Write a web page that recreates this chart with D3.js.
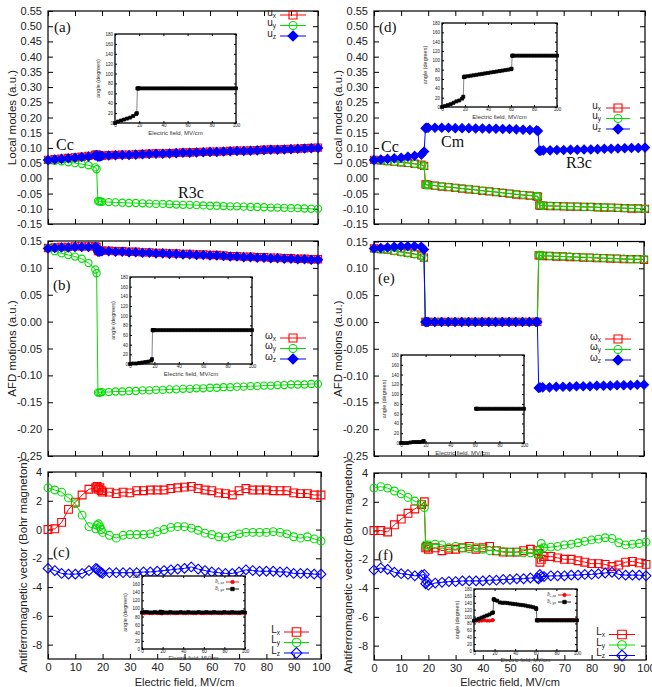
<!DOCTYPE html>
<html>
<head>
<meta charset="utf-8">
<script src="https://cdn.jsdelivr.net/npm/d3@7"></script>
<style>
  body { margin: 0; background: #fff; }
  svg { display: block; }
</style>
</head>
<body>
<div id="chart"></div>
<script>
// ---- values ----
// field points (MV/cm), panels (a), (b), (c)
var fieldABC = [0,2.5,5,7.5,10,12.5,15,17.5,18,18.5,19,19.5,20,22.5,25,27.5,30,32.5,35,37.5,40,42.5,45,47.5,50,52.5,55,57.5,60,62.5,65,67.5,70,72.5,75,77.5,80,82.5,85,87.5,90,92.5,95,97.5,100];
// field points (MV/cm), panels (d), (e), (f)
var fieldDEF = [0,2.5,5,7.5,10,12.5,15,17.5,18.5,19,19.5,20,22.5,25,27.5,30,32.5,35,37.5,40,42.5,45,47.5,50,52.5,55,57.5,60,60.5,61,61.5,62.5,65,67.5,70,72.5,75,77.5,80,82.5,85,87.5,90,92.5,95,97.5,100];

// tick labels
var yTicksU = [-0.15,-0.10,-0.05,0.00,0.05,0.10,0.15,0.20,0.25,0.30,0.35,0.40,0.45,0.50,0.55];
var yTicksW = [-0.25,-0.20,-0.15,-0.10,-0.05,0.00,0.05,0.10,0.15];
var yTicksL = [-8,-6,-4,-2,0,2,4];
var xTicks = [0,10,20,30,40,50,60,70,80,90,100];
var insetYTicks = [0,20,40,60,80,100,120,140,160,180];
var insetXTicks = [0,20,40,60,80,100];

// (a) local modes
var uxA = [0.061,0.063,0.065,0.067,0.069,0.071,0.074,0.077,0.079,0.074,0.074,0.075,0.075,0.076,0.077,0.078,0.078,0.079,0.080,0.081,0.082,0.082,0.083,0.084,0.085,0.085,0.086,0.087,0.088,0.088,0.089,0.090,0.091,0.091,0.092,0.093,0.094,0.095,0.095,0.096,0.097,0.098,0.099,0.100,0.101];
var uyA = [0.060,0.058,0.056,0.053,0.050,0.047,0.043,0.036,0.030,-0.075,-0.076,-0.076,-0.077,-0.078,-0.079,-0.080,-0.081,-0.081,-0.082,-0.083,-0.084,-0.084,-0.085,-0.086,-0.087,-0.087,-0.088,-0.089,-0.090,-0.090,-0.091,-0.092,-0.092,-0.093,-0.094,-0.094,-0.095,-0.096,-0.096,-0.097,-0.098,-0.098,-0.099,-0.100,-0.100];
var uzA = [0.060,0.062,0.064,0.066,0.068,0.070,0.072,0.075,0.077,0.071,0.072,0.073,0.074,0.075,0.076,0.077,0.077,0.078,0.079,0.080,0.081,0.081,0.082,0.083,0.084,0.084,0.085,0.086,0.087,0.087,0.088,0.089,0.090,0.090,0.091,0.092,0.093,0.094,0.094,0.095,0.096,0.097,0.098,0.099,0.100];
var angleA = [0,3,5,7,9,11,14,18,20,70,70,70,70,70,70,70,70,70,70,70,70,70,70,70,70,70,70,70,70,70,70,70,70,70,70,70,70,70,70,70,70,70,70,70,70];

// (b) AFD motions
var wxB = [0.137,0.138,0.139,0.139,0.140,0.140,0.140,0.140,0.139,0.131,0.131,0.132,0.132,0.132,0.131,0.131,0.130,0.130,0.129,0.129,0.128,0.128,0.127,0.127,0.126,0.126,0.125,0.125,0.124,0.124,0.123,0.122,0.122,0.121,0.121,0.120,0.120,0.119,0.119,0.118,0.118,0.117,0.117,0.116,0.116];
var wyB = [0.137,0.131,0.127,0.124,0.121,0.117,0.109,0.097,0.090,-0.132,-0.132,-0.132,-0.131,-0.131,-0.130,-0.130,-0.129,-0.129,-0.128,-0.128,-0.127,-0.127,-0.126,-0.126,-0.125,-0.125,-0.124,-0.124,-0.123,-0.123,-0.122,-0.122,-0.121,-0.121,-0.120,-0.120,-0.119,-0.119,-0.118,-0.118,-0.117,-0.117,-0.117,-0.116,-0.116];
var wzB = [0.136,0.137,0.138,0.138,0.139,0.139,0.139,0.139,0.138,0.130,0.130,0.131,0.131,0.131,0.130,0.130,0.129,0.129,0.128,0.128,0.127,0.127,0.126,0.126,0.125,0.125,0.124,0.124,0.123,0.123,0.122,0.121,0.121,0.120,0.120,0.119,0.119,0.118,0.118,0.117,0.117,0.116,0.116,0.115,0.115];
var angleB = [0,1,1,2,3,4,5,7,10,70,70,70,70,70,70,70,70,70,70,70,70,70,70,70,70,70,70,70,70,70,70,70,70,70,70,70,70,70,70,70,70,70,70,70,70];

// (c) antiferromagnetic vector
var LxC = [0.0,0.05,0.5,1.4,1.9,2.4,2.8,2.9,3.0,2.8,2.9,2.7,2.6,2.6,2.5,2.6,2.55,2.7,2.7,2.75,2.75,2.75,2.85,2.9,2.95,3.0,2.85,2.75,2.7,2.55,2.5,2.4,2.7,2.85,2.75,2.75,2.75,2.7,2.7,2.7,2.55,2.5,2.5,2.4,2.4];
var LyC = [2.9,2.75,2.6,2.2,1.8,1.0,0.2,0.05,0.3,0.4,0.2,0.0,-0.2,-0.4,-0.6,-0.4,-0.35,-0.35,-0.35,-0.3,-0.15,0.0,0.15,0.2,0.2,0.1,-0.05,-0.25,-0.35,-0.5,-0.55,-0.45,-0.3,-0.2,-0.2,-0.2,-0.2,-0.15,-0.2,-0.3,-0.5,-0.6,-0.5,-0.65,-0.8];
var LzC = [-2.7,-2.85,-3.05,-3.1,-3.1,-3.05,-2.85,-2.7,-2.75,-2.85,-2.95,-3.0,-3.05,-3.0,-3.0,-3.0,-3.0,-3.0,-2.95,-2.95,-2.9,-2.85,-2.8,-2.75,-2.7,-2.6,-2.75,-2.85,-2.95,-3.0,-3.05,-3.05,-2.95,-2.8,-2.85,-2.9,-2.9,-2.9,-2.95,-2.95,-3.05,-3.05,-3.05,-3.1,-3.1];
var angleC1 = [88,88,89,88,88,89,88,88,89,89,88,88,88,89,88,88,89,88,88,89,88,88,88,89,88,88,89,88,88,88,89,88,88,89,88,88,88,89,88,88,89,88,88,89,88];
var angleC2 = [90,91,91,90,90,91,90,90,92,91,90,90,91,90,90,91,90,90,90,91,90,90,91,90,90,90,91,90,90,91,90,90,91,90,90,90,91,90,90,91,90,90,90,91,90];

// (d) local modes
var uxD = [0.061,0.059,0.057,0.055,0.053,0.051,0.048,0.045,0.041,-0.020,-0.021,-0.022,-0.024,-0.027,-0.029,-0.031,-0.034,-0.036,-0.038,-0.041,-0.043,-0.045,-0.048,-0.050,-0.053,-0.055,-0.057,-0.059,-0.060,-0.089,-0.090,-0.090,-0.091,-0.091,-0.092,-0.093,-0.093,-0.094,-0.094,-0.095,-0.096,-0.096,-0.097,-0.098,-0.099,-0.099,-0.100];
var uyD = [0.060,0.058,0.056,0.054,0.052,0.050,0.047,0.044,0.040,-0.021,-0.022,-0.022,-0.024,-0.026,-0.028,-0.031,-0.033,-0.035,-0.038,-0.040,-0.042,-0.045,-0.047,-0.050,-0.052,-0.054,-0.056,-0.058,-0.059,-0.088,-0.089,-0.090,-0.090,-0.091,-0.092,-0.092,-0.093,-0.094,-0.094,-0.095,-0.095,-0.096,-0.097,-0.098,-0.098,-0.099,-0.100];
var uzD = [0.060,0.062,0.064,0.066,0.068,0.071,0.074,0.078,0.088,0.165,0.166,0.166,0.166,0.166,0.166,0.165,0.165,0.165,0.164,0.164,0.163,0.163,0.162,0.162,0.161,0.160,0.159,0.158,0.156,0.091,0.091,0.092,0.092,0.093,0.093,0.094,0.094,0.095,0.095,0.096,0.097,0.097,0.098,0.099,0.100,0.100,0.101];
var angleD = [0,2,4,6,9,12,14,18,22,64,65,65,66,67,68,69,70,71,72,73,74,75,76,77,78,79,80,81,82,110,110,110,110,110,110,110,110,110,110,110,110,110,110,110,110,110,110];

// (e) AFD motions
var wxE = [0.137,0.136,0.135,0.133,0.131,0.129,0.127,0.124,0.120,0,0,0,0,0,0,0,0,0,0,0,0,0,0,0,0,0,0,0,0,0.124,0.124,0.123,0.123,0.122,0.122,0.121,0.121,0.120,0.120,0.119,0.119,0.118,0.118,0.117,0.117,0.117,0.116];
var wyE = [0.136,0.135,0.134,0.132,0.130,0.128,0.126,0.123,0.119,0,0,0,0,0,0,0,0,0,0,0,0,0,0,0,0,0,0,0,0,0.125,0.124,0.124,0.123,0.123,0.122,0.122,0.121,0.121,0.120,0.120,0.119,0.119,0.118,0.118,0.117,0.117,0.117];
var wzE = [0.137,0.138,0.139,0.140,0.141,0.141,0.141,0.140,0.135,0,0,0,0,0,0,0,0,0,0,0,0,0,0,0,0,0,0,0,0,-0.123,-0.122,-0.122,-0.122,-0.121,-0.121,-0.121,-0.120,-0.120,-0.120,-0.119,-0.119,-0.119,-0.118,-0.118,-0.118,-0.117,-0.117];
var angleE = [0,0,0,1,2,2,2,3,4,null,null,null,null,null,null,null,null,null,null,null,null,null,null,null,null,null,null,null,null,70,70,70,70,70,70,70,70,70,70,70,70,70,70,70,70,70,70];

// (f) antiferromagnetic vector
var LxF = [0.0,0.0,-0.1,0.4,0.8,1.2,1.5,1.8,2.0,-1.2,-1.1,-1.3,-1.2,-1.4,-1.3,-1.3,-1.2,-1.1,-1.3,-1.2,-1.1,-1.4,-1.5,-1.5,-1.5,-1.4,-1.3,-1.4,-1.6,-2.2,-2.0,-1.8,-1.8,-1.9,-2.0,-2.0,-2.1,-2.2,-2.3,-2.3,-2.35,-2.5,-2.4,-2.2,-2.15,-2.25,-2.35];
var LyF = [2.95,3.05,2.95,2.75,2.55,2.3,2.05,1.85,1.6,-1.0,-1.1,-1.0,-0.95,-1.0,-1.2,-1.1,-1.2,-1.25,-1.2,-1.3,-1.4,-1.4,-1.45,-1.5,-1.5,-1.55,-1.55,-1.6,-1.65,-1.3,-0.9,-1.2,-1.15,-1.1,-1.0,-0.95,-0.85,-0.75,-0.65,-0.6,-0.5,-0.55,-0.85,-1.0,-0.95,-0.9,-0.8];
var LzF = [-2.75,-2.6,-2.7,-2.9,-3.0,-3.05,-3.15,-3.1,-3.05,-3.7,-3.55,-3.8,-3.65,-3.6,-3.55,-3.55,-3.5,-3.5,-3.5,-3.5,-3.45,-3.45,-3.4,-3.4,-3.35,-3.35,-3.3,-3.3,-3.35,-3.05,-3.2,-3.2,-3.15,-3.15,-3.15,-3.1,-3.1,-3.05,-3.05,-3.0,-2.95,-2.9,-3.05,-3.1,-3.1,-3.1,-3.15];
var angleF1 = [88,88,87,88,89,88,88,89,90,null,null,null,null,null,null,null,null,null,null,null,null,null,null,null,null,null,null,null,null,90,90,90,90,90,90,90,90,90,90,90,90,90,90,90,90,90,90];
var angleF2 = [88,91,94,97,100,103,106,110,112,150,150,148,146,141,140,140,139,138,137,136,135,134,133,132,130,129,127,125,122,89,89,89,89,89,89,89,89,89,89,89,89,89,89,89,89,89,89];

var red = "#ff0000", green = "#00dd00", blue = "#0000ff";
var sans = "'Liberation Sans', Arial, Helvetica, sans-serif";
var serif = "'Liberation Serif', 'Times New Roman', serif";

var svg = d3.select("#chart").append("svg")
    .attr("width", 652)
    .attr("height", 687);

// draw one gnuplot-like point
function drawMarker(g, type, cx, cy, s, color, filled, sw) {
  var m;
  if (type == "circle") {
    m = g.append("circle").attr("cx", cx).attr("cy", cy).attr("r", s);
  } else {
    var d;
    if (type == "square") d = "M" + (-s) + "," + (-s) + "h" + (2 * s) + "v" + (2 * s) + "h" + (-2 * s) + "z";
    else {
      var t = s * 1.25;
      d = "M0," + (-t) + "L" + t + ",0L0," + t + "L" + (-t) + ",0z";
    }
    m = g.append("path").attr("d", d).attr("transform", "translate(" + cx + "," + cy + ")");
  }
  m.attr("fill", filled ? color : "none")
   .attr("stroke", color)
   .attr("stroke-width", sw || 1.1);
}

function styleAxis(a, size) {
  a.select(".domain").remove();
  a.attr("font-family", sans).attr("font-size", size);
  a.selectAll("line").attr("stroke", "#000");
  a.selectAll("text").attr("fill", "#222");
}

// frame + mirrored inward ticks, like gnuplot
function frame(g, x, y, b, yTicks, xT, fmt, fs, tick, pad, showX, xpad) {
  g.append("rect")
      .attr("x", b.left).attr("y", b.top)
      .attr("width", b.right - b.left).attr("height", b.bottom - b.top)
      .attr("fill", b.fill || "none")
      .attr("stroke", "#000").attr("stroke-width", b.sw || 1.2);

  var left = g.append("g").attr("transform", "translate(" + b.left + ",0)")
      .call(d3.axisLeft(y).tickValues(yTicks).tickSizeInner(-tick).tickSizeOuter(0).tickPadding(pad).tickFormat(fmt));
  var right = g.append("g").attr("transform", "translate(" + b.right + ",0)")
      .call(d3.axisRight(y).tickValues(yTicks).tickSizeInner(-tick).tickSizeOuter(0).tickFormat(""));
  var bottom = g.append("g").attr("transform", "translate(0," + b.bottom + ")")
      .call(d3.axisBottom(x).tickValues(xT).tickSizeInner(-tick).tickSizeOuter(0).tickPadding(xpad == null ? pad : xpad)
        .tickFormat(showX ? d3.format("d") : ""));
  var top = g.append("g").attr("transform", "translate(0," + b.top + ")")
      .call(d3.axisTop(x).tickValues(xT).tickSizeInner(-tick).tickSizeOuter(0).tickFormat(""));
  [left, right, bottom, top].forEach(function(a) { styleAxis(a, fs); });
}

function drawSeries(g, x, y, s, ms, lw, sw) {
  var pts = s.x.map(function(v, i) { return [v, s.y[i]]; });
  var line = d3.line()
      .defined(function(d) { return d[1] != null; })
      .x(function(d) { return x(d[0]); })
      .y(function(d) { return y(d[1]); });
  g.append("path")
      .attr("d", line(pts))
      .attr("fill", "none")
      .attr("stroke", s.lineColor || s.color)
      .attr("stroke-width", lw);
  var mg = g.append("g");
  pts.forEach(function(d) {
    if (d[1] == null) return;
    drawMarker(mg, s.marker, x(d[0]), y(d[1]), ms, s.color, s.filled, sw);
  });
}

function drawInset(g, ins) {
  var x = d3.scaleLinear().domain([0, 100]).range([ins.left, ins.right]);
  var y = d3.scaleLinear().domain([0, 180]).range([ins.bottom, ins.top]);
  var ig = g.append("g");
  ig.append("rect")
      .attr("x", ins.left).attr("y", ins.top)
      .attr("width", ins.right - ins.left).attr("height", ins.bottom - ins.top)
      .attr("fill", "#fff");
  frame(ig, x, y, {left: ins.left, right: ins.right, top: ins.top, bottom: ins.bottom, sw: 1.3},
        insetYTicks, insetXTicks, d3.format("d"), 4.5, 2, 2, true, 1);
  ig.append("text")
      .attr("transform", "translate(" + (ins.left - 15) + "," + ((ins.top + ins.bottom) / 2) + ") rotate(-90)")
      .attr("text-anchor", "middle")
      .attr("font-family", sans).attr("font-size", 5.5).attr("fill", "#333")
      .text("angle (degrees)");
  ig.append("text")
      .attr("x", (ins.left + ins.right) / 2).attr("y", ins.bottom + (ins.titleGap || 12))
      .attr("text-anchor", "middle")
      .attr("font-family", sans).attr("font-size", ins.titleGap ? 5.5 : 6).attr("fill", "#333")
      .text("Electric field, MV/cm");
  ins.series.forEach(function(s) { drawSeries(ig, x, y, s, 1.5, 0.9, 0.8); });
  if (ins.legend) {
    ins.legend.forEach(function(l, i) {
      var yy = ins.top + 6 + i * 7;
      var t = ig.append("text")
          .attr("x", ins.right - 21).attr("y", yy).attr("dy", "0.2em")
          .attr("text-anchor", "end")
          .attr("font-family", sans).attr("font-size", 4.5).attr("fill", "#333");
      t.append("tspan").text("\u03D1");
      t.append("tspan").attr("font-size", 3.5).attr("dy", 1).text(l.sub);
      ig.append("line")
          .attr("x1", ins.right - 19).attr("x2", ins.right - 6)
          .attr("y1", yy).attr("y2", yy)
          .attr("stroke", l.color).attr("stroke-width", 0.9);
      drawMarker(ig, l.marker, ins.right - 12.5, yy, 1.7, l.color, true, 0.8);
    });
  }
}

function drawPanel(p) {
  var g = svg.append("g");
  var x = d3.scaleLinear().domain([0, 100]).range([p.left, p.right]);
  var y = d3.scaleLinear().domain(p.yDomain).range([p.bottom, p.top]);

  frame(g, x, y, p, p.yTicks, xTicks, p.fmt, 11, 5, 6, p.showX, 4);

  // axis titles
  g.append("text")
      .attr("transform", "translate(" + p.titleX + "," + ((p.top + p.bottom) / 2) + ") rotate(-90)")
      .attr("text-anchor", "middle")
      .attr("dy", "0.35em")
      .attr("font-family", sans).attr("font-size", 11.5).attr("fill", "#222")
      .text(p.yTitle);
  if (p.showX) {
    g.append("text")
        .attr("x", (p.left + p.right) / 2).attr("y", 685.5)
        .attr("text-anchor", "middle")
        .attr("font-family", sans).attr("font-size", 11).attr("fill", "#222")
        .text("Electric field, MV/cm");
  }

  // data
  p.series.forEach(function(s) { drawSeries(g, x, y, s, p.ms, 1, 1.1); });

  // legend
  p.series.forEach(function(s, i) {
    var yy = p.legend.ys[i];
    var t = g.append("text")
        .attr("x", p.legend.textRight).attr("y", yy).attr("dy", "0.05em")
        .attr("text-anchor", "end")
        .attr("font-family", sans).attr("font-size", 10).attr("fill", "#222");
    t.append("tspan").text(s.base);
    t.append("tspan").attr("font-size", 6.5).attr("dy", 2).text(s.sub);
    g.append("line")
        .attr("x1", p.legend.x0).attr("x2", p.legend.x1)
        .attr("y1", yy).attr("y2", yy)
        .attr("stroke", s.color).attr("stroke-width", 1);
    drawMarker(g, s.marker, (p.legend.x0 + p.legend.x1) / 2, yy, p.ms + 0.4, s.color, s.filled, 1.1);
  });

  drawInset(g, p.inset);

  // panel letter and phase names
  p.notes.forEach(function(n) {
    g.append("text")
        .attr("x", n.x).attr("y", n.y)
        .attr("font-family", serif).attr("font-size", n.size || 16).attr("fill", "#111")
        .text(n.text);
  });
}

var fmt2 = function(v) { return v.toFixed(2); };
var fmtInt = function(v) { return String(v); };

drawPanel({
  left: 48, right: 318, top: 11, bottom: 224, yDomain: [-0.15, 0.55], yTicks: yTicksU, fmt: fmt2,
  titleX: 12, yTitle: "Local modes (a.u.)", showX: false, ms: 3.6,
  series: [
    {x: fieldABC, y: uxA, color: red, marker: "square", filled: false, base: "u", sub: "x"},
    {x: fieldABC, y: uyA, color: green, marker: "circle", filled: false, base: "u", sub: "y"},
    {x: fieldABC, y: uzA, color: blue, marker: "diamond", filled: true, base: "u", sub: "z"}
  ],
  legend: {textRight: 276, x0: 280, x1: 306, ys: [15, 25.5, 36]},
  inset: {left: 115, right: 236, top: 34, bottom: 123,
    series: [{x: fieldABC, y: angleA, color: "#000", lineColor: "#777", marker: "square", filled: true}]},
  notes: [{text: "(a)", x: 54, y: 32, size: 15}, {text: "Cc", x: 56, y: 150}, {text: "R3c", x: 178, y: 198}]
});

drawPanel({
  left: 48, right: 318, top: 241, bottom: 456, yDomain: [-0.25, 0.15], yTicks: yTicksW, fmt: fmt2,
  titleX: 12, yTitle: "AFD motions (a.u.)", showX: false, ms: 3.6,
  series: [
    {x: fieldABC, y: wxB, color: red, marker: "square", filled: false, base: "\u03C9", sub: "x"},
    {x: fieldABC, y: wyB, color: green, marker: "circle", filled: false, base: "\u03C9", sub: "y"},
    {x: fieldABC, y: wzB, color: blue, marker: "diamond", filled: true, base: "\u03C9", sub: "z"}
  ],
  legend: {textRight: 276, x0: 280, x1: 306, ys: [338, 348.5, 359]},
  inset: {left: 130, right: 252, top: 277, bottom: 364,
    series: [{x: fieldABC, y: angleB, color: "#000", lineColor: "#777", marker: "square", filled: true}]},
  notes: [{text: "(b)", x: 53, y: 290, size: 15}]
});

drawPanel({
  left: 48, right: 321, top: 472, bottom: 659, yDomain: [-9, 4], yTicks: yTicksL, fmt: fmtInt,
  titleX: 23, yTitle: "Antiferromagnetic vector (Bohr magneton)", showX: true, ms: 3.9,
  series: [
    {x: fieldABC, y: LxC, color: red, marker: "square", filled: false, base: "L", sub: "x"},
    {x: fieldABC, y: LyC, color: green, marker: "circle", filled: false, base: "L", sub: "y"},
    {x: fieldABC, y: LzC, color: blue, marker: "diamond", filled: false, base: "L", sub: "z"}
  ],
  legend: {textRight: 280, x0: 284, x1: 309, ys: [632, 642.5, 653]},
  inset: {left: 142, right: 245, top: 576, bottom: 649, titleGap: 10.5,
    series: [
      {x: fieldABC, y: angleC1, color: red, marker: "circle", filled: true},
      {x: fieldABC, y: angleC2, color: "#000", lineColor: "#555", marker: "square", filled: true}
    ],
    legend: [{sub: "L,xz", color: red, marker: "circle"}, {sub: "L,yz", color: "#000", marker: "square"}]},
  notes: [{text: "(c)", x: 53, y: 557, size: 15}]
});

drawPanel({
  left: 374, right: 645, top: 11, bottom: 224, yDomain: [-0.15, 0.55], yTicks: yTicksU, fmt: fmt2,
  titleX: 338, yTitle: "Local modes (a.u.)", showX: false, ms: 3.6,
  series: [
    {x: fieldDEF, y: uxD, color: red, marker: "square", filled: false, base: "u", sub: "x"},
    {x: fieldDEF, y: uyD, color: green, marker: "circle", filled: false, base: "u", sub: "y"},
    {x: fieldDEF, y: uzD, color: blue, marker: "diamond", filled: true, base: "u", sub: "z"}
  ],
  legend: {textRight: 601, x0: 606, x1: 630, ys: [108, 118.5, 129]},
  inset: {left: 442, right: 557, top: 23, bottom: 107,
    series: [{x: fieldDEF, y: angleD, color: "#000", lineColor: "#777", marker: "square", filled: true}]},
  notes: [{text: "(d)", x: 379, y: 32, size: 15}, {text: "Cc", x: 381, y: 152}, {text: "Cm", x: 441, y: 147}, {text: "R3c", x: 566, y: 168}]
});

drawPanel({
  left: 374, right: 644, top: 241.5, bottom: 456, yDomain: [-0.25, 0.15], yTicks: yTicksW, fmt: fmt2,
  titleX: 338, yTitle: "AFD motions (a.u.)", showX: false, ms: 3.6,
  series: [
    {x: fieldDEF, y: wxE, color: red, marker: "square", filled: false, base: "\u03C9", sub: "x"},
    {x: fieldDEF, y: wyE, color: green, marker: "circle", filled: false, base: "\u03C9", sub: "y"},
    {x: fieldDEF, y: wzE, color: blue, marker: "diamond", filled: true, base: "\u03C9", sub: "z"}
  ],
  legend: {textRight: 601, x0: 605, x1: 631, ys: [339, 349.5, 360]},
  inset: {left: 401, right: 524, top: 355, bottom: 443,
    series: [{x: fieldDEF, y: angleE, color: "#000", lineColor: "#777", marker: "square", filled: true}]},
  notes: [{text: "(e)", x: 378, y: 283, size: 15}]
});

drawPanel({
  left: 374, right: 646, top: 473, bottom: 660, yDomain: [-9, 4], yTicks: yTicksL, fmt: fmtInt,
  titleX: 348, yTitle: "Antiferromagnetic vector (Bohr magneton)", showX: true, ms: 3.9,
  series: [
    {x: fieldDEF, y: LxF, color: red, marker: "square", filled: false, base: "L", sub: "x"},
    {x: fieldDEF, y: LyF, color: green, marker: "circle", filled: false, base: "L", sub: "y"},
    {x: fieldDEF, y: LzF, color: blue, marker: "diamond", filled: false, base: "L", sub: "z"}
  ],
  legend: {textRight: 605, x0: 609, x1: 635, ys: [634.5, 645, 655.5]},
  inset: {left: 474, right: 577, top: 589, bottom: 651, titleGap: 10.5,
    series: [
      {x: fieldDEF, y: angleF1, color: red, marker: "circle", filled: true},
      {x: fieldDEF, y: angleF2, color: "#000", lineColor: "#555", marker: "square", filled: true}
    ],
    legend: [{sub: "L,xz", color: red, marker: "circle"}, {sub: "L,yz", color: "#000", marker: "square"}]},
  notes: [{text: "(f)", x: 378, y: 560, size: 15}]
});
</script>
</body>
</html>
